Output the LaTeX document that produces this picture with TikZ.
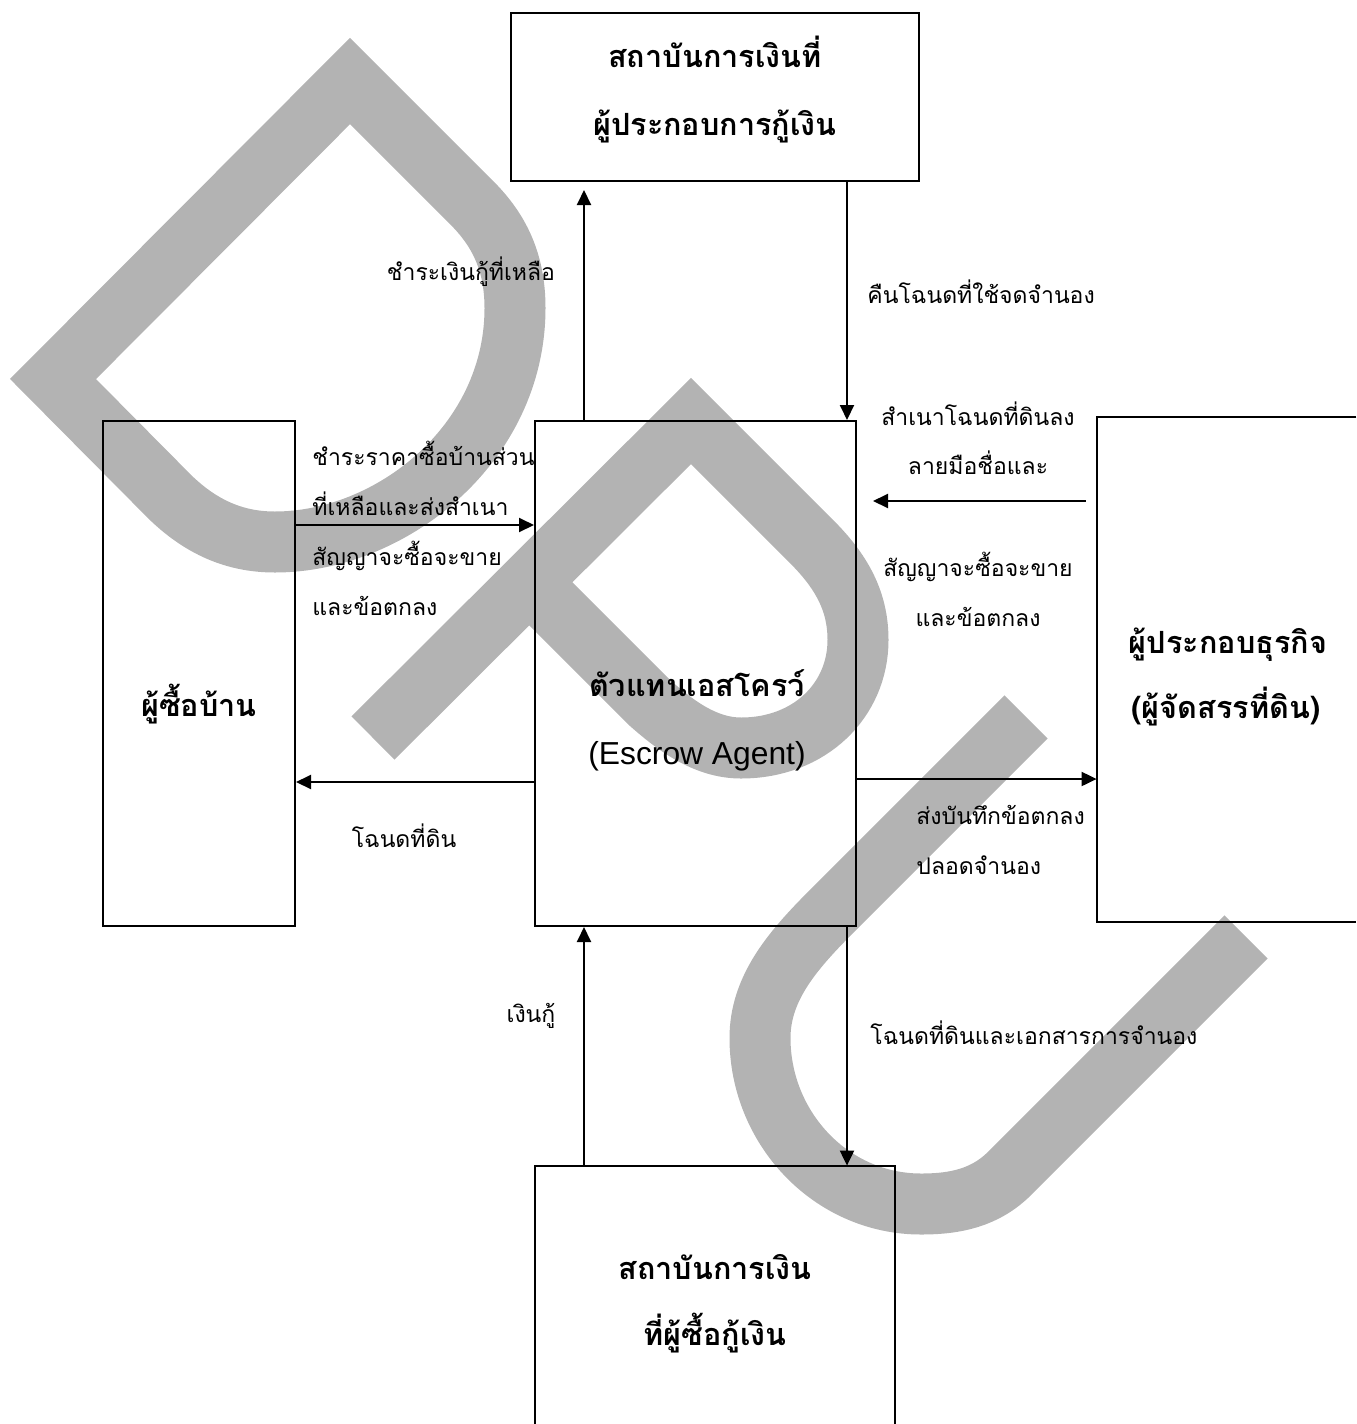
\documentclass[tikz,border=0pt]{standalone}
\usepackage{fontspec}
\setmainfont{Loma}[Script=Thai]
\newfontfamily\latinsans{Liberation Sans}
\usetikzlibrary{arrows.meta}
\definecolor{wm}{HTML}{B3B3B3}
\begin{document}
\begin{tikzpicture}[x=0.5pt,y=-0.5pt,
  frame/.style={draw=black, line width=1pt, inner sep=0pt},
  openframe/.style={draw=none, inner sep=0pt},
  arr/.style={-{Triangle[length=7.5pt,width=7pt]}, line width=1pt},
  lbl/.style={font=\fontsize{11.5}{13}\selectfont, inner sep=0pt},
  ttl/.style={font=\fontsize{15.3}{18}\selectfont\bfseries, inner sep=0pt},
  wmark/.style={wm, line width=30.5pt, line join=miter}]
\useasboundingbox (0,0) rectangle (1356,1424);
% watermark
\draw[wmark] (350,81) -- (53,379) -- (170,497) .. controls (205,531) and (240,542) .. (275,542)
  .. controls (390,542) and (515,445) .. (515,308) .. controls (515,262) and (499,230) .. (472,203) -- cycle;
\draw[wmark] (373,738) -- (691,421) -- (812,542) .. controls (845,575) and (858,605) .. (858,640)
  .. controls (858,700) and (810,748) .. (741,748) .. controls (705,748) and (675,725) .. (650,703) -- (530,583);
\draw[wmark] (1026,717) -- (830,913) .. controls (790,953) and (760,990) .. (760,1038)
  .. controls (760,1128) and (831,1204) .. (921,1204) .. controls (955,1204) and (985,1198) .. (1010,1173) -- (1246,937);
% boxes
\node[frame, minimum width=204pt, minimum height=84pt] (top) at (715,97) {};
\node[frame, minimum width=96pt, minimum height=252.5pt] (buyer) at (199,673.5) {};
\node[frame, minimum width=160.5pt, minimum height=252.5pt] (mid) at (695.5,673.5) {};
\node[openframe, minimum width=129.5pt, minimum height=252.5pt] (dev) at (1226.5,669.5) {};
\node[openframe, minimum width=180pt, minimum height=129pt] (bank) at (715,1295) {};
\draw[line width=1pt] (dev.north east) -- (dev.north west) -- (dev.south west) -- (dev.south east);
\draw[line width=1pt] (bank.south west) -- (bank.north west) -- (bank.north east) -- (bank.south east);
% titles
\node[ttl, anchor=base] (t1) at (715,67) {สถาบันการเงินที่};
\node[ttl, anchor=base] (t2) at (715,135) {ผู้ประกอบการกู้เงิน};
\node[ttl, anchor=base] (t3) at (199,716) {ผู้ซื้อบ้าน};
\node[ttl, anchor=base] (t4) at (697,696) {ตัวแทนเอสโครว์};
\node[inner sep=0pt, font=\latinsans\fontsize{15.9}{18}\selectfont, anchor=base] (t5) at (697,764) {(Escrow Agent)};
\node[ttl, anchor=base] (t6) at (1228,653) {ผู้ประกอบธุรกิจ};
\node[ttl, anchor=base] (t7) at (1226,718) {(ผู้จัดสรรที่ดิน)};
\node[ttl, anchor=base] (t8) at (715,1279) {สถาบันการเงิน};
\node[ttl, anchor=base] (t9) at (715,1345) {ที่ผู้ซื้อกู้เงิน};
% arrows
\coordinate (xa) at (584,0);
\coordinate (xb) at (847,0);
\coordinate (ya) at (0,525);
\coordinate (yb) at (0,501);
\coordinate (yc) at (0,782);
\coordinate (yd) at (0,779);
\draw[arr, shorten >=4pt] (mid.north -| xa) -- (top.south -| xa);
\draw[arr] (top.south -| xb) -- (mid.north -| xb);
\draw[arr] (buyer.east |- ya) -- (mid.west |- ya);
\draw[arr, shorten <=5.5pt, shorten >=8pt] (dev.west |- yb) -- (mid.east |- yb);
\draw[arr] (mid.west |- yc) -- (buyer.east |- yc);
\draw[arr] (mid.east |- yd) -- (dev.west |- yd);
\draw[arr] (bank.north -| xa) -- (mid.south -| xa);
\draw[arr] (mid.south -| xb) -- (bank.north -| xb);
% labels
\node[lbl, anchor=base] (l1) at (471,280) {ชำระเงินกู้ที่เหลือ};
\node[lbl, anchor=base west] (l2) at (867,303) {คืนโฉนดที่ใช้จดจำนอง};
\node[lbl, anchor=base west] (l3a) at (312,465) {ชำระราคาซื้อบ้านส่วน};
\node[lbl, anchor=base west] (l3b) at (312,515) {ที่เหลือและส่งสำเนา};
\node[lbl, anchor=base west] (l3c) at (312,565) {สัญญาจะซื้อจะขาย};
\node[lbl, anchor=base west] (l3d) at (312,615) {และข้อตกลง};
\node[lbl, anchor=base] (l4a) at (978,425) {สำเนาโฉนดที่ดินลง};
\node[lbl, anchor=base] (l4b) at (978,474) {ลายมือชื่อและ};
\node[lbl, anchor=base] (l4c) at (978,576) {สัญญาจะซื้อจะขาย};
\node[lbl, anchor=base] (l4d) at (978,626) {และข้อตกลง};
\node[lbl, anchor=base] (l5) at (404,847) {โฉนดที่ดิน};
\node[lbl, anchor=base west] (l6a) at (916,824) {ส่งบันทึกข้อตกลง};
\node[lbl, anchor=base west] (l6b) at (916,874) {ปลอดจำนอง};
\node[lbl, anchor=base] (l7) at (531,1022) {เงินกู้};
\node[lbl, anchor=base west] (l8) at (870,1044) {โฉนดที่ดินและเอกสารการจำนอง};
\end{tikzpicture}
\end{document}
